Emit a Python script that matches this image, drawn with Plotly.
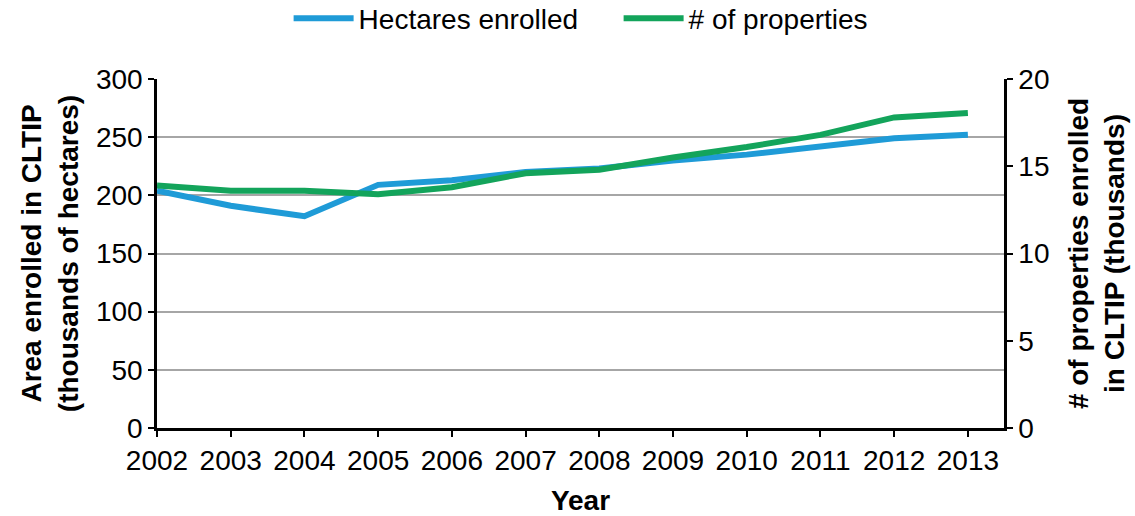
import plotly.graph_objects as go

years = [2002, 2003, 2004, 2005, 2006, 2007, 2008, 2009, 2010, 2011, 2012, 2013]
hectares_thousands = [204, 191, 182, 209, 213, 220, 223, 230, 235, 242, 249, 252]
properties_thousands = [13.9, 13.6, 13.6, 13.4, 13.8, 14.6, 14.8, 15.5, 16.1, 16.8, 17.8, 18.05]
left_ticks = [0, 50, 100, 150, 200, 250, 300]
right_ticks = [0, 5, 10, 15, 20]

BLUE = "#1f9bd7"
GREEN = "#13a45b"
FONT = "Liberation Sans, Arial, sans-serif"
FS = 28

fig = go.Figure()
fig.add_trace(go.Scatter(
    x=years, y=hectares_thousands, name="Hectares enrolled",
    mode="lines", line=dict(color=BLUE, width=6),
))
fig.add_trace(go.Scatter(
    x=years, y=properties_thousands, name="# of properties",
    mode="lines", line=dict(color=GREEN, width=6), yaxis="y2",
))

fig.update_layout(
    width=1135, height=516,
    margin=dict(l=157, r=131, t=79, b=88, autoexpand=False),
    paper_bgcolor="white", plot_bgcolor="white",
    font=dict(family=FONT, size=FS, color="black"),
    showlegend=True,
    legend=dict(orientation="h", x=0.545, xanchor="center", y=1.245,
                yanchor="top", yref="paper",
                font=dict(size=FS), itemwidth=60, tracegroupgap=0,
                entrywidth=255, entrywidthmode="pixels",
                bgcolor="rgba(0,0,0,0)"),
    xaxis=dict(
        range=[2002, 2013.49], tickmode="array", tickvals=years,
        ticktext=[str(y) for y in years],
        showgrid=False, zeroline=False, automargin=False,
        showline=True, linecolor="black", linewidth=2.5,
        ticks="outside", ticklen=6, tickwidth=2, tickcolor="black",
        tickfont=dict(size=FS),
        title=dict(text="<b>Year</b>", font=dict(size=FS), standoff=20),
    ),
    yaxis=dict(
        range=[0, 300], tickmode="array", tickvals=left_ticks,
        showgrid=True, gridcolor="#a6a6a6", gridwidth=2, zeroline=False,
        showline=True, linecolor="black", linewidth=2.5, automargin=False,
        ticks="outside", ticklen=6, tickwidth=2, tickcolor="black",
        tickfont=dict(size=FS),
        title=dict(text="<b>Area enrolled in CLTIP<br>(thousands of hectares)</b>",
                   font=dict(size=FS), standoff=10),
    ),
    yaxis2=dict(
        range=[0, 20], tickmode="array", tickvals=right_ticks,
        overlaying="y", side="right", automargin=False,
        showgrid=False, zeroline=False,
        showline=True, linecolor="black", linewidth=2.5,
        ticks="outside", ticklen=6, tickwidth=2, tickcolor="black",
        tickfont=dict(size=FS),
        title=dict(text="<b># of properties enrolled<br>in CLTIP (thousands)</b>",
                   font=dict(size=FS), standoff=20),
    ),
)

fig.write_html("out.html")
